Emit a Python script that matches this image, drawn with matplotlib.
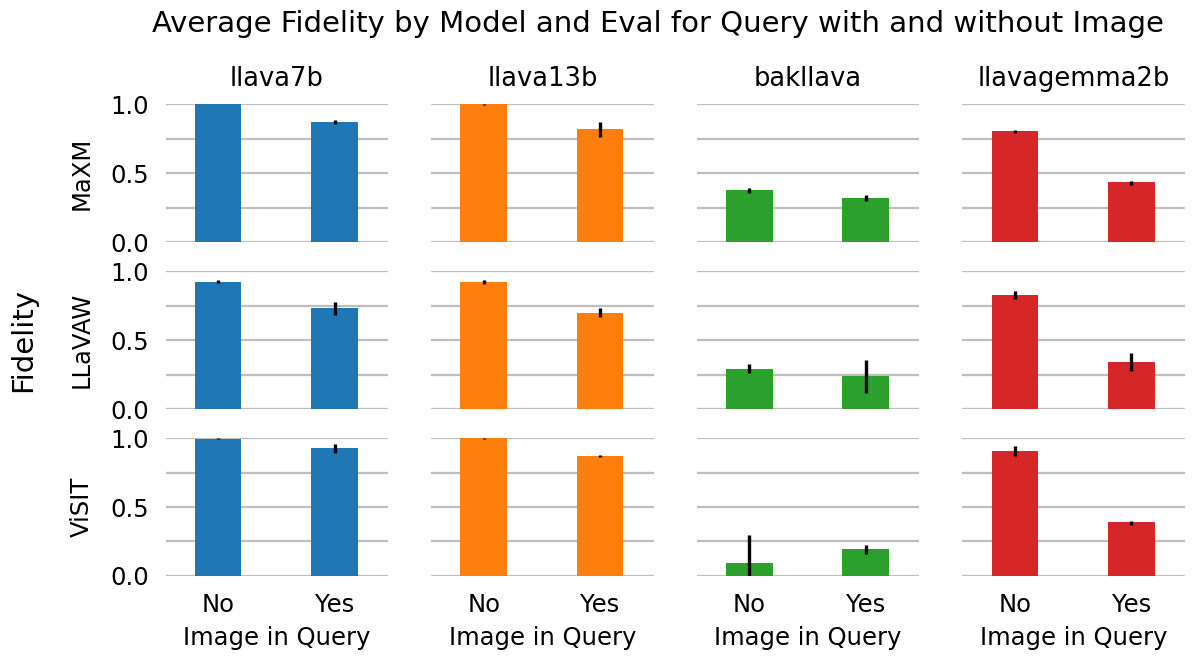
import numpy as np
import matplotlib
matplotlib.use('Agg')
import matplotlib.pyplot as plt

models = ['llava7b', 'llava13b', 'bakllava', 'llavagemma2b']
evals = ['MaXM', 'LLaVAW', 'ViSIT']
image_in_query = ['No', 'Yes']
colors = ['#1f77b4', '#ff7f0e', '#2ca02c', '#d62728']

# mean fidelity [eval][model][No, Yes]
fidelity = [
    [[1.0, 0.87], [1.0, 0.82], [0.377, 0.32], [0.805, 0.435]],
    [[0.925, 0.73], [0.92, 0.695], [0.29, 0.24], [0.825, 0.34]],
    [[0.995, 0.925], [1.0, 0.87], [0.096, 0.193], [0.905, 0.39]],
]
# confidence interval lower / upper bounds
ci_low = [
    [[1.0, 0.86], [0.995, 0.765], [0.36, 0.30], [0.795, 0.415]],
    [[0.915, 0.68], [0.905, 0.665], [0.26, 0.12], [0.80, 0.273]],
    [[0.99, 0.895], [0.995, 0.865], [0.0, 0.162], [0.87, 0.37]],
]
ci_high = [
    [[1.0, 0.885], [1.0, 0.87], [0.395, 0.34], [0.815, 0.445]],
    [[0.935, 0.78], [0.935, 0.73], [0.325, 0.355], [0.853, 0.407]],
    [[1.0, 0.955], [1.0, 0.875], [0.30, 0.225], [0.94, 0.40]],
]

fig, axes = plt.subplots(3, 4, figsize=(11.92, 6.56), dpi=100, sharex=True, sharey=True)
plt.subplots_adjust(left=0.139, right=0.994, top=0.841, bottom=0.122, hspace=0.21, wspace=0.194)

x = np.arange(len(image_in_query))
for r, ev in enumerate(evals):
    for c, model in enumerate(models):
        ax = axes[r][c]
        vals = np.array(fidelity[r][c])
        lo = vals - np.array(ci_low[r][c])
        hi = np.array(ci_high[r][c]) - vals
        ax.bar(x, vals, width=0.4, color=colors[c], zorder=2)
        ax.errorbar(x, vals, yerr=[lo, hi], fmt='none', ecolor='black', elinewidth=2.4, capsize=0, zorder=3)
        ax.set_ylim(0, 1.0)
        ax.set_xlim(-0.45, 1.46)
        ax.set_yticks([0.0, 0.25, 0.5, 0.75, 1.0])
        ax.set_yticklabels(['0.0', '', '0.5', '', '1.0'])
        ax.set_xticks(x)
        ax.set_xticklabels(image_in_query)
        ax.grid(axis='y', color='0.75', linewidth=1.6, zorder=0)
        ax.set_axisbelow(True)
        for s in ax.spines.values():
            s.set_visible(False)
        ax.tick_params(length=0, labelsize=17.5)
        ax.tick_params(axis='x', pad=12)
        ax.tick_params(axis='y', pad=12)
        if r == 0:
            ax.set_title(model, fontsize=18.5, pad=13)
        if c == 0:
            ax.set_ylabel(ev, fontsize=17.5, labelpad=12)
        if r == 2:
            ax.set_xlabel('Image in Query', fontsize=17.5, labelpad=7)

fig.suptitle('Average Fidelity by Model and Eval for Query with and without Image', fontsize=21, x=0.552, y=0.985)
fig.text(0.019, 0.482, 'Fidelity', rotation=90, fontsize=21, va='center', ha='center')

plt.savefig('out.png')
